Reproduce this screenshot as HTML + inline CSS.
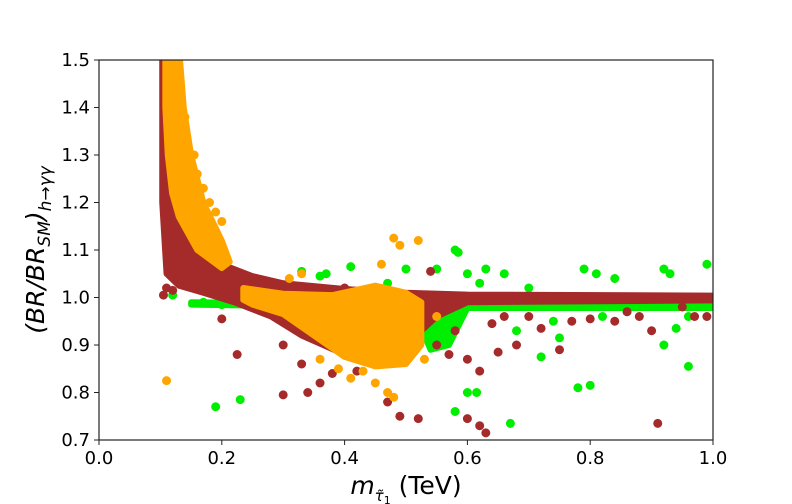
<!DOCTYPE html>
<html><head><meta charset="utf-8"><style>
body{margin:0;background:#fff;}
svg{display:block;font-family:"DejaVu Sans","Liberation Sans",sans-serif;}
</style></head><body>
<svg id="chart" width="792" height="504" viewBox="0 0 792 504" xmlns="http://www.w3.org/2000/svg">
<g id="marks"></g>
<rect x="99" y="60" width="614" height="380" fill="none" stroke="#222" stroke-width="1.2"/>
<g id="axes"></g>
<text x="406" y="494" font-size="25" text-anchor="middle"><tspan font-style="italic">m</tspan><tspan font-size="15" dy="7" font-style="italic">τ̃</tspan><tspan font-size="11" dy="3">1</tspan><tspan dy="-10"> (TeV)</tspan></text>
<text transform="translate(44,250) rotate(-90)" font-size="25" text-anchor="middle"><tspan font-style="italic">(BR/BR</tspan><tspan font-size="17" dy="6" font-style="italic">SM</tspan><tspan dy="-6" font-style="italic">)</tspan><tspan font-size="17" dy="7" font-style="italic">h→γγ</tspan></text>
</svg>
<script>
const xTicks=[0,0.2,0.4,0.6,0.8,1.0];
const xTickLabels=["0.0","0.2","0.4","0.6","0.8","1.0"];
const yTicks=[0.7,0.8,0.9,1.0,1.1,1.2,1.3,1.4,1.5];
const yTickLabels=["0.7","0.8","0.9","1.0","1.1","1.2","1.3","1.4","1.5"];
// dense regions (band outlines) in data units
const brownBandX=[0.103,0.125,0.135,0.15,0.17,0.2,0.25,0.3,0.4,0.5,0.6,1.0,1.0,0.6,0.55,0.5,0.45,0.4,0.33,0.28,0.22,0.17,0.13,0.11,0.103];
const brownBandY=[1.5,1.5,1.35,1.2,1.12,1.07,1.045,1.03,1.018,1.01,1.006,1.004,0.994,0.99,0.96,0.9,0.865,0.88,0.92,0.96,0.99,1.01,1.025,1.05,1.2];
const greenBandX=[0.15,0.3,0.5,0.6,1.0,1.0,0.6,0.57,0.54,0.52,0.3,0.15];
const greenBandY=[0.99,0.988,0.986,0.984,0.984,0.978,0.978,0.9,0.89,0.95,0.982,0.985];
const orangeTopX=[0.108,0.132,0.138,0.15,0.17,0.2,0.213,0.2,0.16,0.13,0.119,0.112,0.108];
const orangeTopY=[1.5,1.5,1.4,1.3,1.2,1.12,1.075,1.062,1.1,1.17,1.22,1.3,1.4];
const orangeBlobX=[0.235,0.3,0.38,0.45,0.5,0.525,0.525,0.5,0.45,0.4,0.35,0.3,0.25,0.235];
const orangeBlobY=[1.02,1.008,1.005,1.025,1.01,0.99,0.9,0.86,0.855,0.875,0.92,0.965,0.985,0.995];
// scattered points
const brownX=[0.11,0.12,0.105,0.2,0.225,0.3,0.34,0.36,0.42,0.47,0.49,0.52,0.6,0.63,0.62,0.91,0.55,0.57,0.6,0.62,0.65,0.68,0.72,0.75,0.8,0.88,0.9,0.66,0.64,0.84,0.99,0.4,0.54,0.33,0.38,0.3,0.58,0.7,0.77,0.86,0.95,0.97];
const brownY=[1.02,1.015,1.005,0.955,0.88,0.795,0.8,0.82,0.845,0.78,0.75,0.745,0.745,0.715,0.73,0.735,0.9,0.88,0.87,0.845,0.885,0.9,0.935,0.89,0.955,0.96,0.93,0.96,0.945,0.95,0.96,1.02,1.055,0.86,0.84,0.9,0.93,0.96,0.95,0.97,0.98,0.96];
const greenX=[0.19,0.23,0.58,0.585,0.55,0.6,0.63,0.66,0.5,0.41,0.36,0.79,0.81,0.84,0.92,0.93,0.99,0.6,0.615,0.67,0.78,0.8,0.72,0.75,0.96,0.92,0.54,0.57,0.68,0.74,0.94,0.96,0.82,0.86,0.58,0.44,0.12,0.17,0.2,0.33,0.37,0.47,0.62,0.7,0.9];
const greenY=[0.77,0.785,1.1,1.095,1.06,1.05,1.06,1.05,1.06,1.065,1.045,1.06,1.05,1.04,1.06,1.05,1.07,0.8,0.8,0.735,0.81,0.815,0.875,0.915,0.855,0.9,0.92,0.91,0.93,0.95,0.935,0.96,0.96,0.97,0.76,0.93,1.005,0.99,0.985,1.055,1.05,1.03,1.03,1.02,1.0];
const orangeX=[0.11,0.48,0.49,0.52,0.47,0.48,0.45,0.43,0.13,0.155,0.17,0.19,0.2,0.18,0.46,0.53,0.14,0.16,0.39,0.36,0.55,0.41,0.33,0.31];
const orangeY=[0.825,1.125,1.11,1.12,0.8,0.79,0.82,0.845,1.45,1.3,1.23,1.18,1.16,1.2,1.07,0.87,1.38,1.26,0.85,0.87,0.96,0.83,1.05,1.04];

const X0=99,X1=713,Y0=440,Y1=60;
const sx=v=>X0+(X1-X0)*v;
const sy=v=>Y0-(Y0-Y1)*(v-0.7)/0.8;
const NS="http://www.w3.org/2000/svg";
const marks=document.getElementById('marks');
const axes=document.getElementById('axes');
const clip=document.createElementNS(NS,'clipPath');clip.setAttribute('id','pc');
const cr=document.createElementNS(NS,'rect');cr.setAttribute('x',X0);cr.setAttribute('y',Y1);cr.setAttribute('width',X1-X0);cr.setAttribute('height',Y0-Y1);
clip.appendChild(cr);marks.appendChild(clip);
marks.setAttribute('clip-path','url(#pc)');
function band(xs,ys,col,name){
  const p=document.createElementNS(NS,'polygon');
  p.setAttribute('points',xs.map((x,i)=>sx(x)+','+sy(ys[i])).join(' '));
  p.setAttribute('fill',col);p.setAttribute('stroke',col);p.setAttribute('stroke-width','6');p.setAttribute('stroke-linejoin','round');
  
  
  marks.appendChild(p);
}
function pts(xs,ys,col,name){
  xs.forEach((x,i)=>{
    const c=document.createElementNS(NS,'circle');
    c.setAttribute('cx',sx(x));c.setAttribute('cy',sy(ys[i]));c.setAttribute('r','4.5');c.setAttribute('fill',col);
    
    
    marks.appendChild(c);
  });
}
band(greenBandX,greenBandY,'#00ee00','green-dense-region');
pts(greenX,greenY,'#00ee00','green-point');
band(brownBandX,brownBandY,'#a52a2a','brown-dense-region');
pts(brownX,brownY,'#a52a2a','brown-point');
band(orangeTopX,orangeTopY,'#ffa500','orange-dense-branch');
band(orangeBlobX,orangeBlobY,'#ffa500','orange-dense-blob');
pts(orangeX,orangeY,'#ffa500','orange-point');

xTicks.forEach((v,i)=>{
  const l=document.createElementNS(NS,'line');
  l.setAttribute('x1',sx(v));l.setAttribute('x2',sx(v));l.setAttribute('y1',Y0);l.setAttribute('y2',Y0+5);l.setAttribute('stroke','#222');
  
  
  axes.appendChild(l);
  const t=document.createElementNS(NS,'text');
  t.setAttribute('x',sx(v));t.setAttribute('y',Y0+24);t.setAttribute('font-size','18');t.setAttribute('text-anchor','middle');
  t.textContent=xTickLabels[i];
  
  
  axes.appendChild(t);
});
yTicks.forEach((v,i)=>{
  const l=document.createElementNS(NS,'line');
  l.setAttribute('x1',X0-5);l.setAttribute('x2',X0);l.setAttribute('y1',sy(v));l.setAttribute('y2',sy(v));l.setAttribute('stroke','#222');
  
  
  axes.appendChild(l);
  const t=document.createElementNS(NS,'text');
  t.setAttribute('x',X0-9);t.setAttribute('y',sy(v)+6);t.setAttribute('font-size','18');t.setAttribute('text-anchor','end');
  t.textContent=yTickLabels[i];
  
  
  axes.appendChild(t);
});
</script>
</body></html>
